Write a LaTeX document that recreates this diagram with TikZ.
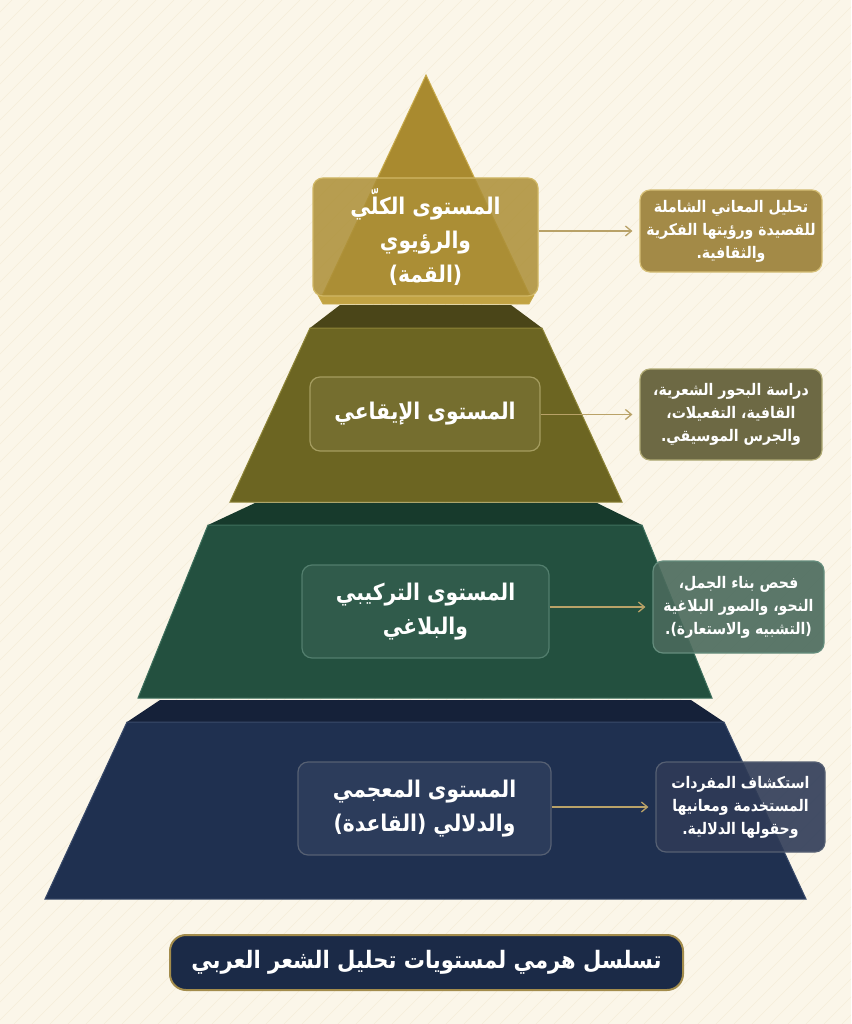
\documentclass[tikz,border=0pt]{standalone}
\usepackage{fontspec}
\newfontfamily\arabicfont[Script=Arabic, FakeStretch=0.88]{DejaVu Sans}
\TeXXeTstate=1
\usetikzlibrary{arrows.meta}
\newcommand\ar[1]{\beginR #1\endR}
\definecolor{bgc}{HTML}{FBF6E9}
\definecolor{bgline}{HTML}{F5EDDA}
\definecolor{goldf}{HTML}{A98A2F}
\definecolor{goldb}{HTML}{C8AA4A}
\definecolor{goldband}{HTML}{C2A343}
\definecolor{olivef}{HTML}{6C6522}
\definecolor{olivet}{HTML}{4A4518}
\definecolor{oliveb}{HTML}{8E8538}
\definecolor{greenf}{HTML}{23503F}
\definecolor{greent}{HTML}{173A2C}
\definecolor{greenb}{HTML}{3F705D}
\definecolor{navyf}{HTML}{1F3050}
\definecolor{navyt}{HTML}{152139}
\definecolor{navyb}{HTML}{3A4B6A}
\definecolor{arrowc}{HTML}{B9A268}
\definecolor{titlef}{HTML}{1B2A47}
\definecolor{titleb}{HTML}{A38C4C}
\definecolor{s1f}{HTML}{A38A47}
\definecolor{s2f}{HTML}{6D6944}
\definecolor{s3f}{HTML}{4A6A5C}
\definecolor{s4f}{HTML}{2F3B57}
\tikzset{
  lvlbox/.style={rounded corners=10pt, line width=1.2pt, align=center, text=white,
    font=\arabicfont\bfseries\fontsize{23}{34}\selectfont, inner sep=4pt},
  sidebox/.style={rounded corners=10pt, line width=1.2pt, align=center, text=white,
    font=\arabicfont\bfseries\fontsize{16}{23}\selectfont, inner sep=2pt},
  conn/.style={draw=arrowc, line width=1.4pt, -{Straight Barb[length=6pt,width=10pt,line width=1.3pt]}, shorten >=7pt},
}
\begin{document}
\begin{tikzpicture}[x=1pt,y=-1pt]
\useasboundingbox (0,0) rectangle (851,1024);
\fill[bgc] (0,0) rectangle (851,1024);
\begin{scope}
\clip (0,0) rectangle (851,1024);
\foreach \i in {-1030,-1012,...,860} {
  \draw[bgline, line width=0.6pt] (\i,1024) -- (\i+1024,0);
}
\end{scope}

% ---- navy level
\fill[navyt] (160,700) -- (691,700) -- (724,722) -- (127,722) -- cycle;
\filldraw[fill=navyf, draw=navyb, line width=1pt] (127,722) -- (724,722) -- (806,899) -- (45,899) -- cycle;
% ---- green level
\fill[greent] (255,503) -- (597,503) -- (642,525) -- (208,525) -- cycle;
\filldraw[fill=greenf, draw=greenb, line width=1pt] (208,525) -- (642,525) -- (712,698) -- (138,698) -- cycle;
% ---- olive level
\fill[olivet] (340,305) -- (511,305) -- (542,328) -- (310,328) -- cycle;
\filldraw[fill=olivef, draw=oliveb, line width=1pt] (310,328) -- (542,328) -- (622,502) -- (230,502) -- cycle;
% ---- gold apex
\filldraw[fill=goldf, draw=goldb, line width=1pt] (426,75) -- (530,296) -- (322,296) -- cycle;
\filldraw[fill=goldband, draw=goldb, line width=0.8pt] (318,295) -- (534,295) -- (529,304) -- (323,304) -- cycle;

% ---- level label boxes
\node[lvlbox, draw=goldb!85!white, fill=goldf!96!white, fill opacity=0.86, text opacity=1,
  minimum width=225pt, minimum height=118pt] (b1) at (425.5,237)
  {\ar{المستوى الكلّي}\\\ar{والرؤيوي}\\\ar{(القمة)}};
\node[lvlbox, draw=oliveb!80!white, fill=olivef!94!white,
  minimum width=230pt, minimum height=74pt] (b2) at (425,414)
  {\ar{المستوى الإيقاعي}};
\node[lvlbox, draw=greenb!90!white, fill=greenf!94!white,
  minimum width=247pt, minimum height=93pt] (b3) at (425.5,611.5)
  {\ar{المستوى التركيبي}\\\ar{والبلاغي}};
\node[lvlbox, draw=navyb!60!gray, fill=navyf!94!white,
  minimum width=253pt, minimum height=93pt] (b4) at (424.5,808.5)
  {\ar{المستوى المعجمي}\\\ar{والدلالي (القاعدة)}};

% ---- side boxes
\node[sidebox, draw=goldb!75!white, fill=s1f,
  minimum width=182pt, minimum height=82pt] (s1) at (731,231)
  {\ar{تحليل المعاني الشاملة}\\\ar{للقصيدة ورؤيتها الفكرية}\\\ar{والثقافية.}};
\node[sidebox, draw=oliveb!70!white, fill=s2f,
  minimum width=182pt, minimum height=91pt] (s2) at (731,414.5)
  {\ar{دراسة البحور الشعرية،}\\\ar{القافية، التفعيلات،}\\\ar{والجرس الموسيقي.}};
\node[sidebox, draw=greenb!80!white, fill=s3f, fill opacity=0.9, text opacity=1,
  minimum width=171pt, minimum height=92pt] (s3) at (738.5,607)
  {\ar{فحص بناء الجمل،}\\\ar{النحو، والصور البلاغية}\\\ar{(التشبيه والاستعارة).}};
\node[sidebox, draw=navyb!60!gray, fill=s4f, fill opacity=0.9, text opacity=1,
  minimum width=169pt, minimum height=90pt] (s4) at (740.5,807)
  {\ar{استكشاف المفردات}\\\ar{المستخدمة ومعانيها}\\\ar{وحقولها الدلالية.}};

% ---- connectors
\draw[conn] (b1.east |- s1.west) -- (s1.west);
\draw[conn] (b2.east |- s2.west) -- (s2.west);
\draw[conn] (b3.east |- s3.west) -- (s3.west);
\draw[conn] (b4.east |- s4.west) -- (s4.west);

% ---- title
\node[rounded corners=16pt, line width=2pt, draw=titleb, fill=titlef, text=white,
  font=\arabicfont\bfseries\fontsize{24}{28}\selectfont, minimum width=513pt, minimum height=55pt]
  (title) at (426.5,962.5) {\ar{تسلسل هرمي لمستويات تحليل الشعر العربي}};
\end{tikzpicture}
\end{document}
